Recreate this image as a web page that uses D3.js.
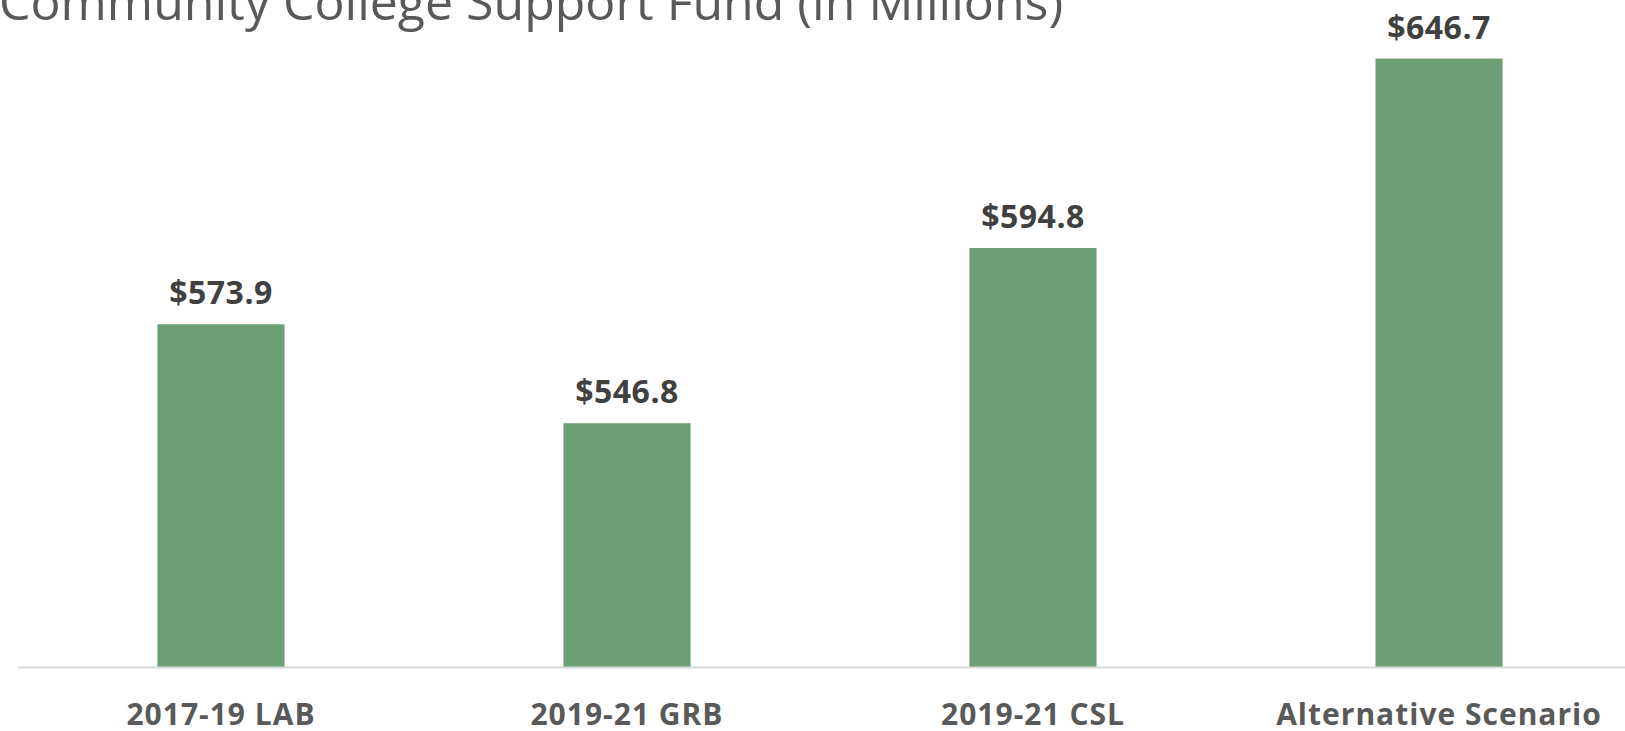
<!DOCTYPE html>
<html>
<head>
<meta charset="utf-8">
<script src="https://cdn.jsdelivr.net/npm/d3@7"></script>
<style>
  html, body { margin: 0; padding: 0; background: #fff; overflow: hidden; }
  svg { display: block; }
</style>
</head>
<body>
<svg width="1625" height="731"></svg>
<script>
// chart data
const categories = ["2017-19 LAB", "2019-21 GRB", "2019-21 CSL", "Alternative Scenario"];
const values = [573.9, 546.8, 594.8, 646.7];
const title = "Community College Support Fund (in Millions)";

const svg = d3.select("svg");
const baseY = 667;
const font = "'Open Sans', Lato, sans-serif";

const x = d3.scaleBand()
  .domain(categories)
  .range([18, 1642])
  .paddingInner(0.687)
  .paddingOuter(0.3435);

const y = d3.scaleLinear()
  .domain([480, 660])
  .range([baseY, baseY - 180 * 3.65]);

// title, partly cut off at the top like the original
svg.append("text")
  .attr("x", -1)
  .attr("y", 20)
  .attr("fill", "#595959")
  .attr("font-family", font)
  .attr("font-size", 50)
  .text(title);

// bars
svg.append("g")
  .selectAll("rect")
  .data(values)
  .enter()
  .append("rect")
  .attr("x", (d, i) => x(categories[i]))
  .attr("y", d => y(d))
  .attr("width", x.bandwidth())
  .attr("height", d => baseY - y(d))
  .attr("fill", "#6c9f76");

// value labels
svg.append("g")
  .selectAll("text")
  .data(values)
  .enter()
  .append("text")
  .attr("x", (d, i) => x(categories[i]) + x.bandwidth() / 2)
  .attr("y", d => y(d) - 20)
  .attr("text-anchor", "middle")
  .attr("fill", "#404040")
  .attr("font-family", font)
  .attr("font-weight", "bold")
  .attr("font-size", 32)
  .attr("letter-spacing", 0.5)
  .text(d => "$" + d3.format(".1f")(d));

// x axis
const xAxis = svg.append("g")
  .attr("transform", `translate(0,${baseY})`)
  .call(d3.axisBottom(x).tickSize(0).tickPadding(37));

xAxis.select(".domain")
  .attr("d", `M18,0.5H1625`)
  .attr("stroke", "#d9d9d9")
  .attr("stroke-width", 2);

xAxis.selectAll("text")
  .attr("fill", "#595959")
  .attr("font-family", font)
  .attr("font-weight", "bold")
  .attr("font-size", 30)
  .attr("letter-spacing", 1);
</script>
</body>
</html>
